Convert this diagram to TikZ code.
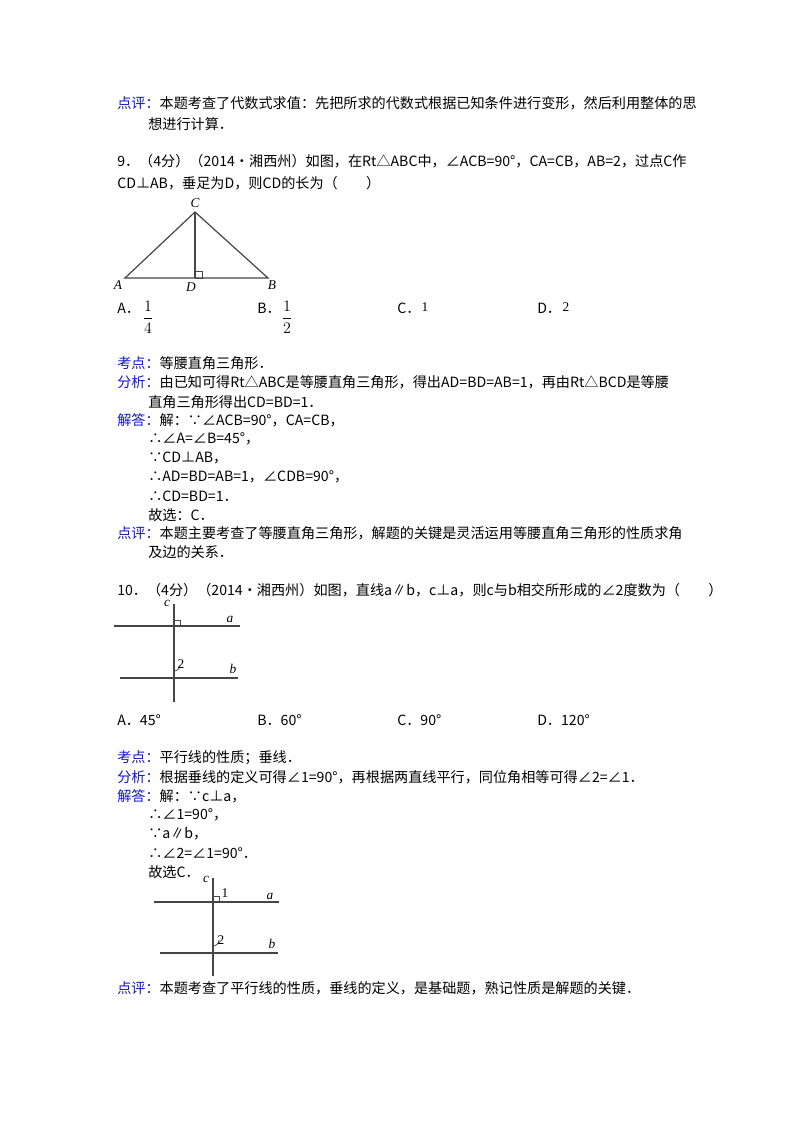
\documentclass[tikz,border=0pt]{standalone}
\usepackage{fontspec}
\setmainfont{Noto Sans CJK SC}
\newfontfamily\tms{Liberation Serif}
\definecolor{lbl}{RGB}{20,20,210}
\definecolor{ln}{RGB}{70,70,70}
\begin{document}
\begin{tikzpicture}[x=0.75pt,y=-0.75pt,
  tx/.style={anchor=west,inner sep=0,font=\fontsize{10.6pt}{12pt}\selectfont},
  fig/.style={inner sep=0,font=\fontsize{10pt}{12pt}\selectfont\tms\itshape},
  seg/.style={draw=ln,line width=0.9pt}]
\useasboundingbox (0,0) rectangle (800,1132);
\fill[white] (0,0) rectangle (800,1132);
% block 1
\node[tx] (l1) at (117,103) {\textcolor{lbl}{点评：}本题考查了代数式求值：先把所求的代数式根据已知条件进行变形，然后利用整体的思};
\node[tx] (l2) at (148,124) {想进行计算．};
\node[tx] (l3) at (117,161) {9．（4分）（2014•湘西州）如图，在Rt△ABC中，∠ACB=90°，CA=CB，AB=2，过点C作};
\node[tx] (l4) at (117,183) {CD⊥AB，垂足为D，则CD的长为（\quad\quad）};
% triangle
\coordinate (A) at (125,278); \coordinate (B) at (268,278);
\coordinate (C) at (195,212); \coordinate (D) at (195,278);
\draw[seg] (A) -- (C) -- (B) -- cycle;
\draw[seg] (C) -- (D);
\draw[seg,line width=0.7pt] (195,271) rectangle (202,278);
\node[fig] (lc) at (195,203) {C};
\node[fig] (la) at (118,285) {A};
\node[fig] (ld) at (191,287) {D};
\node[fig] (lb) at (272,285) {B};
% options 9
\node[tx] (o1) at (117,308) {A．};
\node[inner sep=0,font=\fontsize{12.5pt}{13pt}\selectfont\tms] (f1) at (148,317) {$\displaystyle\frac{1}{4}$};
\node[tx] (o2) at (257,308) {B．};
\node[inner sep=0,font=\fontsize{12.5pt}{13pt}\selectfont\tms] (f2) at (287,317) {$\displaystyle\frac{1}{2}$};
\node[tx] (o3) at (397,308) {C．};
\node[inner sep=0,font=\fontsize{10pt}{12pt}\selectfont\tms] (f3) at (425,307) {1};
\node[tx] (o4) at (537,308) {D．};
\node[inner sep=0,font=\fontsize{10pt}{12pt}\selectfont\tms] (f4) at (566,307) {2};
% analysis 9
\node[tx] (k1) at (117,363) {\textcolor{lbl}{考点：}等腰直角三角形．};
\node[tx] (k2) at (117,382) {\textcolor{lbl}{分析：}由已知可得Rt△ABC是等腰直角三角形，得出AD=BD=AB=1，再由Rt△BCD是等腰};
\node[tx] (k3) at (148,402) {直角三角形得出CD=BD=1．};
\node[tx] (k4) at (117,420) {\textcolor{lbl}{解答：}解：∵∠ACB=90°，CA=CB，};
\node[tx] (k5) at (148,439) {∴∠A=∠B=45°，};
\node[tx] (k6) at (148,458) {∵CD⊥AB，};
\node[tx] (k7) at (148,477) {∴AD=BD=AB=1，∠CDB=90°，};
\node[tx] (k8) at (148,496) {∴CD=BD=1．};
\node[tx] (k9) at (148,515) {故选：C．};
\node[tx] (k10) at (117,533) {\textcolor{lbl}{点评：}本题主要考查了等腰直角三角形，解题的关键是灵活运用等腰直角三角形的性质求角};
\node[tx] (k11) at (148,552) {及边的关系．};
% question 10
\node[tx] (q1) at (117,590) {10．（4分）（2014•湘西州）如图，直线a∥b，c⊥a，则c与b相交所形成的∠2度数为（\quad\quad）};
\draw[seg] (174,604) -- (174,702);
\draw[seg] (114,626) -- (240,626);
\draw[seg] (120,678) -- (238,678);
\draw[seg,line width=0.7pt] (174,620) rectangle (180,626);
\draw[seg,line width=0.6pt] (174,671) arc[start angle=90,end angle=0,radius=6];
\node[fig] (gc) at (167,603) {c};
\node[fig] (ga) at (230,619) {a};
\node[fig,font=\fontsize{10pt}{12pt}\selectfont\tms] (g2) at (181,664) {2};
\node[fig] (gb) at (233,669) {b};
\node[tx] (p1) at (117,720) {A．45°};
\node[tx] (p2) at (257,720) {B．60°};
\node[tx] (p3) at (397,720) {C．90°};
\node[tx] (p4) at (537,720) {D．120°};
% analysis 10
\node[tx] (m1) at (117,758) {\textcolor{lbl}{考点：}平行线的性质；垂线．};
\node[tx] (m2) at (117,777) {\textcolor{lbl}{分析：}根据垂线的定义可得∠1=90°，再根据两直线平行，同位角相等可得∠2=∠1．};
\node[tx] (m3) at (117,796) {\textcolor{lbl}{解答：}解：∵c⊥a，};
\node[tx] (m4) at (148,815) {∴∠1=90°，};
\node[tx] (m5) at (148,834) {∵a∥b，};
\node[tx] (m6) at (148,853) {∴∠2=∠1=90°．};
\node[tx] (m7) at (148,872) {故选C．};
% figure 3
\draw[seg] (213,878) -- (213,976);
\draw[seg] (154,902) -- (279,902);
\draw[seg] (160,953) -- (278,953);
\draw[seg,line width=0.7pt] (213,896) rectangle (219,902);
\draw[seg,line width=0.6pt] (213,946) arc[start angle=90,end angle=0,radius=6];
\node[fig] (hc) at (206,879) {c};
\node[fig,font=\fontsize{10pt}{12pt}\selectfont\tms] (h1) at (225,893) {1};
\node[fig] (ha) at (270,896) {a};
\node[fig,font=\fontsize{10pt}{12pt}\selectfont\tms] (h2) at (221,940) {2};
\node[fig] (hb) at (272,944) {b};
\node[tx] (r1) at (117,988) {\textcolor{lbl}{点评：}本题考查了平行线的性质，垂线的定义，是基础题，熟记性质是解题的关键．};
\end{tikzpicture}
\end{document}
